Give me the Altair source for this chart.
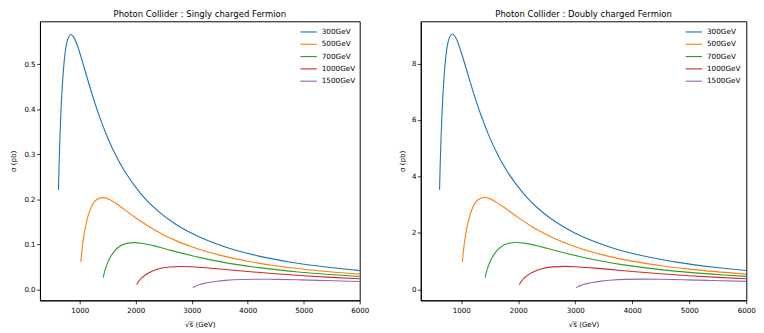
import altair as alt
import pandas as pd

labels = ["300GeV", "500GeV", "700GeV", "1000GeV", "1500GeV"]
colors = ["#1f77b4", "#ff7f0e", "#2ca02c", "#d62728", "#9467bd"]

# sqrt(s) in GeV
x_300 = [620, 630, 645, 660, 690, 720, 780, 846, 900, 990, 1080, 1200, 1350, 1500,
         1650, 1800, 2100, 2400, 2700, 3000, 3600, 4200, 4800, 5400, 6000]
x_500 = [1020, 1030, 1050, 1075, 1100, 1150, 1200, 1300, 1410, 1500, 1650, 1800,
         2000, 2250, 2500, 2750, 3000, 3500, 4000, 4500, 5000, 6000]
x_700 = [1420, 1428, 1442, 1470, 1505, 1540, 1610, 1680, 1820, 1974, 2100, 2310,
         2520, 2800, 3150, 3500, 3850, 4200, 4900, 5600, 6000]
x_1000 = [2020, 2040, 2060, 2100, 2150, 2200, 2300, 2400, 2600, 2820, 3000, 3300,
          3600, 4000, 4500, 5000, 5500, 6000]
x_1500 = [3020, 3030, 3060, 3090, 3150, 3225, 3300, 3450, 3600, 3900, 4230, 4500,
          4950, 5400, 6000]

# Singly charged fermion, sigma in pb
s1_300 = [0.2204, 0.2715, 0.3327, 0.3817, 0.4543, 0.5028, 0.5531, 0.5658, 0.5583,
          0.5292, 0.4920, 0.4415, 0.3845, 0.3362, 0.2961, 0.2627, 0.2110, 0.1737,
          0.1458, 0.1244, 0.0940, 0.0739, 0.0598, 0.0496, 0.0418]
s1_500 = [0.0610, 0.0751, 0.0977, 0.1198, 0.1374, 0.1636, 0.1810, 0.1991, 0.2037,
          0.2010, 0.1905, 0.1771, 0.1589, 0.1384, 0.1210, 0.1066, 0.0946, 0.0760,
          0.0625, 0.0525, 0.0448, 0.0339]
s1_700 = [0.02616, 0.03110, 0.03833, 0.04986, 0.06111, 0.07010, 0.08344, 0.09235,
          0.10158, 0.10391, 0.10255, 0.09719, 0.09036, 0.08108, 0.07061, 0.06175,
          0.05438, 0.04824, 0.03876, 0.03190, 0.02880]
s1_1000 = [0.01068, 0.01524, 0.01878, 0.02443, 0.02994, 0.03435, 0.04089, 0.04525,
           0.04978, 0.05092, 0.05025, 0.04763, 0.04428, 0.03973, 0.03460, 0.03026,
           0.02665, 0.02364]
s1_1500 = [0.00387, 0.00475, 0.00677, 0.00835, 0.01086, 0.01331, 0.01527, 0.01817,
           0.02011, 0.02212, 0.02263, 0.02233, 0.02117, 0.01968, 0.01766]

# Doubly charged fermion, sigma in pb
s2_300 = [3.527, 4.343, 5.323, 6.107, 7.269, 8.045, 8.849, 9.052, 8.933, 8.467,
          7.872, 7.064, 6.151, 5.379, 4.737, 4.202, 3.376, 2.779, 2.333, 1.990,
          1.505, 1.183, 0.957, 0.793, 0.669]
s2_500 = [0.975, 1.202, 1.563, 1.916, 2.198, 2.616, 2.896, 3.185, 3.258, 3.216,
          3.047, 2.833, 2.542, 2.214, 1.936, 1.705, 1.513, 1.215, 1.000, 0.840,
          0.716, 0.542]
s2_700 = [0.4186, 0.4976, 0.6133, 0.7977, 0.9778, 1.1217, 1.3351, 1.4777, 1.6253,
          1.6627, 1.6408, 1.5551, 1.4458, 1.2974, 1.1298, 0.9880, 0.8701, 0.7719,
          0.6202, 0.5104, 0.4608]
s2_1000 = [0.1709, 0.2438, 0.3005, 0.3909, 0.4791, 0.5496, 0.6542, 0.7241, 0.7964,
           0.8147, 0.8040, 0.7620, 0.7085, 0.6357, 0.5536, 0.4841, 0.4263, 0.3782]
s2_1500 = [0.0620, 0.0760, 0.1084, 0.1336, 0.1737, 0.2129, 0.2443, 0.2908, 0.3218,
           0.3540, 0.3621, 0.3573, 0.3387, 0.3149, 0.2825]

x_ticks = [1000, 2000, 3000, 4000, 5000, 6000]
y1_ticks = [0.0, 0.1, 0.2, 0.3, 0.4, 0.5]
y2_ticks = [0, 2, 4, 6, 8]

xs = [x_300, x_500, x_700, x_1000, x_1500]
ys1 = [s1_300, s1_500, s1_700, s1_1000, s1_1500]
ys2 = [s2_300, s2_500, s2_700, s2_1000, s2_1500]


def frame(ylists):
    rows = []
    for lab, xl, yl in zip(labels, xs, ylists):
        for i, (a, b) in enumerate(zip(xl, yl)):
            rows.append({"series": lab, "x": a, "y": b, "i": i})
    return pd.DataFrame(rows)


FONT = "DejaVu Sans"


def panel(df, title, ydomain, yticks, yfmt, width, title_pad, legend_x):
    return alt.Chart(df).mark_line(
        strokeWidth=1.15, interpolate="monotone", clip=True
    ).encode(
        x=alt.X("x:Q",
                scale=alt.Scale(domain=[290, 6000], nice=False, zero=False),
                axis=alt.Axis(values=x_ticks, format="d", title="√s\u0305 (GeV)",
                              labelFlush=False, labelPadding=3.5, titlePadding=7)),
        y=alt.Y("y:Q",
                scale=alt.Scale(domain=ydomain, nice=False, zero=False),
                axis=alt.Axis(values=yticks, format=yfmt, title="σ (pb)",
                              labelPadding=1.5, titlePadding=title_pad)),
        color=alt.Color("series:N",
                        scale=alt.Scale(domain=labels, range=colors),
                        legend=alt.Legend(title=None, orient="none",
                                          legendX=legend_x, legendY=6,
                                          symbolType="M-2,0L2,0", symbolSize=72.25,
                                          symbolStrokeWidth=1.15,
                                          labelFontSize=7.5, labelFont=FONT,
                                          labelColor="black", labelOffset=8.55,
                                          rowPadding=3.7, padding=0)),
        order="i:Q",
    ).properties(
        width=width, height=288,
        title=alt.TitleParams(title, fontSize=8.75, font=FONT,
                              fontWeight="normal", color="black", offset=2.5),
    )


left = panel(frame(ys1), "Photon Collider : Singly charged Fermion",
             [-0.0243, 0.595], y1_ticks, ".1f", 330, 7, 272.25)
right = panel(frame(ys2), "Photon Collider : Doubly charged Fermion",
              [-0.389, 9.50], y2_ticks, "d", 336, 5, 276.85)

chart = alt.hconcat(left, right, spacing=29).resolve_scale(
    color="independent", y="independent"
).resolve_legend(color="independent").properties(
    padding={"left": 0, "top": -3.5, "right": 0, "bottom": 0},
    background="white",
).configure_view(
    stroke="black", strokeWidth=1
).configure_axis(
    grid=False, domainColor="black", domainWidth=1, tickColor="black",
    tickSize=3.5, tickWidth=0.8, labelFontSize=7.3, labelFont=FONT,
    labelColor="black", titleFontSize=7.3, titleFont=FONT,
    titleFontWeight="normal", titleColor="black"
)

chart.save("out.html", embed_options={"renderer": "svg", "actions": False})
